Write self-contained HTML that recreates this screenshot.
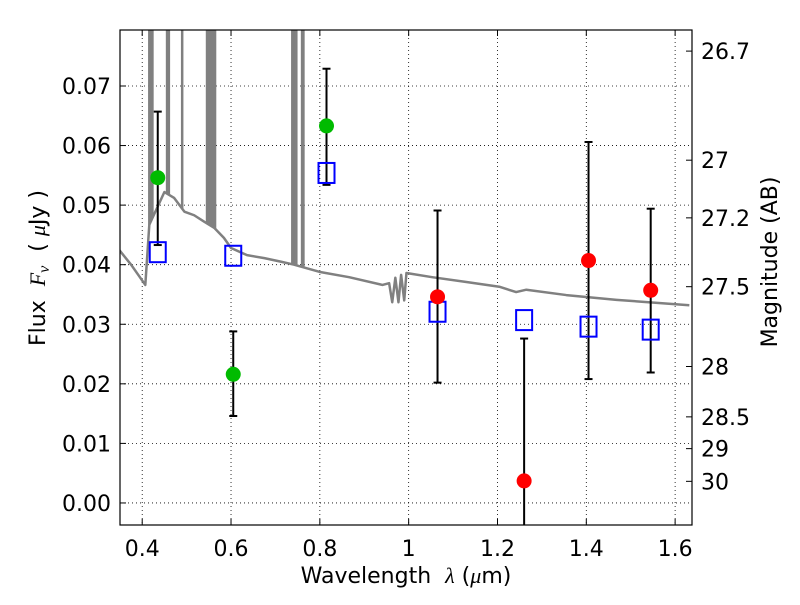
<!DOCTYPE html>
<html><head><meta charset="utf-8"><style>
body{margin:0;background:#fff}
svg text{font-family:"DejaVu Sans","Liberation Sans",sans-serif;font-size:22px;fill:#000;white-space:pre}
</style></head><body>
<svg id="chart" width="800" height="600" xmlns="http://www.w3.org/2000/svg">
<defs><clipPath id="clip"><rect x="120" y="30" width="572" height="495"/></clipPath></defs>
<rect x="0" y="0" width="800" height="600" fill="#fff"/>
<g id="grid"></g>
<g id="spec" clip-path="url(#clip)"></g>
<g id="marks" clip-path="url(#clip)"></g>
<rect x="120" y="30" width="572" height="495" fill="none" stroke="#000" stroke-width="1.2"/>
<g id="axes"></g>
<text x="406" y="583" text-anchor="middle">Wavelength  <tspan font-style="italic" font-family="Liberation Serif">λ</tspan> (<tspan font-style="italic" font-family="Liberation Serif">μ</tspan>m)</text>
<text transform="translate(45,268) rotate(-90)" text-anchor="middle">Flux  <tspan font-style="italic" font-family="Liberation Serif">F</tspan><tspan font-style="italic" font-family="Liberation Serif" font-size="16" dy="4">ν</tspan><tspan dy="-4">  ( </tspan><tspan font-style="italic" font-family="Liberation Serif">μ</tspan>Jy )</text>
<text transform="translate(777,262) rotate(-90)" text-anchor="middle">Magnitude (AB)</text>
</svg>
<script>
const xTicks=[0.4,0.6,0.8,1,1.2,1.4,1.6];
const xTickLabels=["0.4","0.6","0.8","1","1.2","1.4","1.6"];
const yTicks=[0,0.01,0.02,0.03,0.04,0.05,0.06,0.07];
const yTickLabels=["0.00","0.01","0.02","0.03","0.04","0.05","0.06","0.07"];
const magTicks=[26.7,27,27.2,27.5,28,28.5,29,30];
const magTickLabels=["26.7","27","27.2","27.5","28","28.5","29","30"];
const specLam=[0.348,0.375,0.407,0.416,0.450,0.472,0.495,0.517,0.540,0.562,0.584,0.600,0.636,0.675,0.713,0.742,0.799,0.866,0.941,0.956,0.963,0.970,0.977,0.983,0.990,0.995,1.053,1.130,1.204,1.242,1.265,1.355,1.468,1.632];
const specFlux=[0.0425,0.0400,0.0366,0.0467,0.0522,0.0512,0.0489,0.0483,0.0472,0.0462,0.0445,0.0428,0.0416,0.0411,0.0405,0.0400,0.0388,0.0379,0.0366,0.0369,0.0337,0.0378,0.0337,0.0383,0.0340,0.0386,0.0379,0.0371,0.0363,0.0354,0.0358,0.0349,0.0341,0.0332];
const spikeLam=[0.416,0.419,0.423,0.456,0.460,0.490,0.546,0.550,0.553,0.557,0.560,0.564,0.738,0.742,0.747,0.760,0.763];
const greenLam=[0.435,0.605,0.815];
const greenFlux=[0.0546,0.0216,0.0633];
const greenErrHi=[0.0657,0.0288,0.0729];
const greenErrLo=[0.0433,0.0146,0.0534];
const redLam=[1.065,1.26,1.405,1.545];
const redFlux=[0.0346,0.0037,0.0407,0.0357];
const redErrHi=[0.0491,0.0276,0.0606,0.0494];
const redErrLo=[0.0202,-0.01,0.0208,0.0219];
const modelLam=[0.435,0.605,0.815,1.065,1.26,1.405,1.545];
const modelFlux=[0.0421,0.0415,0.0554,0.0321,0.0307,0.0296,0.0291];

const NS="http://www.w3.org/2000/svg";
const X0=120,X1=692,Y0=525,Y1=30,xmin=0.35,xmax=1.638,ymin=-0.0037,ymax=0.0794;
const xs=v=>X0+(v-xmin)/(xmax-xmin)*(X1-X0);
const ys=v=>Y0-(v-ymin)/(ymax-ymin)*(Y0-Y1);
const magToFlux=m=>Math.pow(10,(23.9-m)/2.5);
function mk(tag,attrs,parent){const e=document.createElementNS(NS,tag);for(const k in attrs)e.setAttribute(k,attrs[k]);parent.appendChild(e);return e;}
const grid=document.getElementById('grid'),axes=document.getElementById('axes'),spec=document.getElementById('spec'),marks=document.getElementById('marks');

xTicks.forEach((t,i)=>{const x=xs(t);
 const g=mk('line',{x1:x,x2:x,y1:Y1,y2:Y0,stroke:'#000','stroke-dasharray':'1,3','stroke-width':0.8},grid);
 
 mk('line',{x1:x,x2:x,y1:Y0,y2:Y0-6,stroke:'#000'},axes);mk('line',{x1:x,x2:x,y1:Y1,y2:Y1+6,stroke:'#000'},axes);
 const tx=mk('text',{x:x,y:Y0+31,'text-anchor':'middle'},axes);tx.textContent=xTickLabels[i];
 });
yTicks.forEach((t,i)=>{const y=ys(t);
 const g=mk('line',{x1:X0,x2:X1,y1:y,y2:y,stroke:'#000','stroke-dasharray':'1,3','stroke-width':0.8},grid);
 
 mk('line',{x1:X0,x2:X0+6,y1:y,y2:y,stroke:'#000'},axes);
 const tx=mk('text',{x:X0-9,y:y+8,'text-anchor':'end'},axes);tx.textContent=yTickLabels[i];
 });
magTicks.forEach((m,i)=>{const y=ys(magToFlux(m));
 mk('line',{x1:X1,x2:X1-6,y1:y,y2:y,stroke:'#000'},axes);
 const tx=mk('text',{x:X1+9,y:y+8,'text-anchor':'start'},axes);tx.textContent=magTickLabels[i];
 });

function interp(l){for(let i=1;i<specLam.length;i++){if(l<=specLam[i]){const f=(l-specLam[i-1])/(specLam[i]-specLam[i-1]);return specFlux[i-1]+f*(specFlux[i]-specFlux[i-1]);}}return specFlux[specFlux.length-1];}
const p=mk('polyline',{points:specLam.map((l,i)=>xs(l)+','+ys(specFlux[i])).join(' '),fill:'none',stroke:'#808080','stroke-width':2.5,'stroke-linejoin':'round'},spec);

spikeLam.forEach(l=>{const s=mk('line',{x1:xs(l),x2:xs(l),y1:Y1-5,y2:ys(interp(l)),stroke:'#808080','stroke-width':2.5},spec);
 });

function errbar(lam,hi,lo){const x=xs(lam);
 const e=mk('g',{},marks);
 mk('line',{x1:x,x2:x,y1:ys(hi),y2:ys(lo),stroke:'#000','stroke-width':2},e);
 mk('line',{x1:x-4,x2:x+4,y1:ys(hi),y2:ys(hi),stroke:'#000','stroke-width':2},e);
 mk('line',{x1:x-4,x2:x+4,y1:ys(lo),y2:ys(lo),stroke:'#000','stroke-width':2},e);}
greenLam.forEach((l,i)=>errbar(l,greenErrHi[i],greenErrLo[i]));
redLam.forEach((l,i)=>errbar(l,redErrHi[i],redErrLo[i]));
modelLam.forEach((l,i)=>{const r=mk('rect',{x:xs(l)-8,y:ys(modelFlux[i])-10,width:16,height:20,fill:'none',stroke:'#0000ff','stroke-width':2},marks);
 });
greenLam.forEach((l,i)=>{const c=mk('circle',{cx:xs(l),cy:ys(greenFlux[i]),r:7.5,fill:'#00bb00'},marks);
 });
redLam.forEach((l,i)=>{const c=mk('circle',{cx:xs(l),cy:ys(redFlux[i]),r:7.5,fill:'#ff0000'},marks);
 });
</script>
</body></html>
